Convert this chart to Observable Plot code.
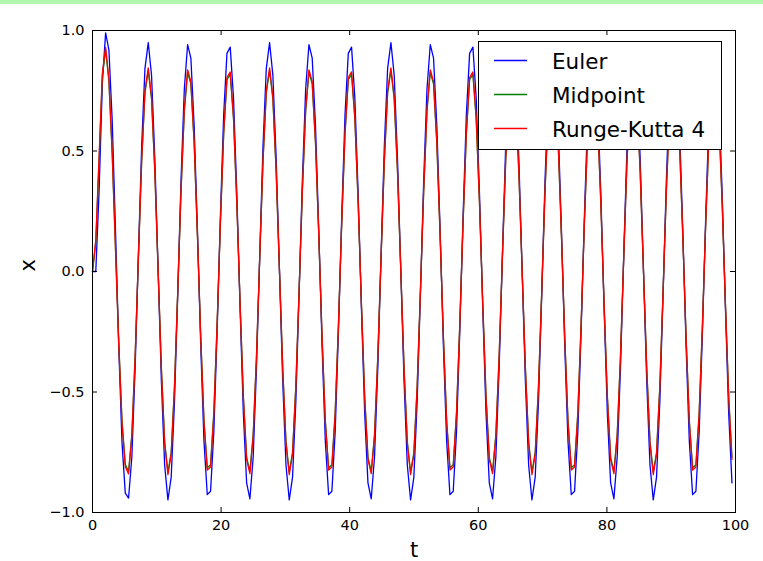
<!DOCTYPE html>
<html><head><meta charset="utf-8">
<script src="https://cdn.jsdelivr.net/npm/d3@7"></script>
<script src="https://cdn.jsdelivr.net/npm/@observablehq/plot@0.6"></script>
<style>
html,body{margin:0;padding:0;background:#fff;}
#wrap{position:relative;width:763px;height:561px;overflow:hidden;background:#fff;}
#band{position:absolute;left:0;top:0;width:763px;height:4px;background:#b4f7b0;z-index:2;}
svg{display:block;}
</style></head><body>
<div id="wrap"><div id="band"></div></div>
<script>
// sampling step of the time grid (t = index * tStep)
const tStep = 0.51;

const euler = [0,0,0.33,0.78,0.99,0.92,0.63,0.18,-0.31,-0.71,-0.92,-0.94,
-0.770,-0.402,0.068,0.523,0.843,0.950,0.815,0.473,0.011,-0.453,-0.803,-0.948,-0.853,-0.542,-0.092,0.381,0.757,0.941,0.885,0.606,0.172,-0.306,-0.705,-0.926,-0.912,-0.666,-0.251,0.228,0.649,0.905,0.931,0.721,0.328,-0.149,-0.588,-0.877,-0.943,
-0.770,-0.402,0.068,0.523,0.843,0.950,0.815,0.473,0.011,-0.453,-0.803,-0.948,-0.853,-0.542,-0.092,0.381,0.757,0.941,0.885,0.606,0.172,-0.306,-0.705,-0.926,-0.912,-0.666,-0.251,0.228,0.649,0.905,0.931,0.721,0.328,-0.149,-0.588,-0.877,-0.943,
-0.770,-0.402,0.068,0.523,0.843,0.950,0.815,0.473,0.011,-0.453,-0.803,-0.948,-0.853,-0.542,-0.092,0.381,0.757,0.941,0.885,0.606,0.172,-0.306,-0.705,-0.926,-0.912,-0.666,-0.251,0.228,0.649,0.905,0.931,0.721,0.328,-0.149,-0.588,-0.877,-0.943,
-0.770,-0.402,0.068,0.523,0.843,0.950,0.815,0.473,0.011,-0.453,-0.803,-0.948,-0.853,-0.542,-0.092,0.381,0.757,0.941,0.885,0.606,0.172,-0.306,-0.705,-0.926,-0.912,-0.666,-0.251,0.228,0.649,0.905,0.931,0.721,0.328,-0.149,-0.588,-0.877,-0.943,
-0.770,-0.402,0.068,0.523,0.843,0.950,0.815,0.473,0.011,-0.453,-0.803,-0.948,-0.853,-0.542,-0.092,0.381,0.757,0.941,0.885,0.606,0.172,-0.306,-0.705,-0.926,-0.912,-0.666,-0.251,0.228,0.649,0.905,0.931,0.721,0.328,-0.149,-0.588,-0.877];

const midpoint = [0,0.12,0.46,0.81,0.92,0.79,0.49,0.10,-0.29,-0.62,-0.80,-0.83,
-0.677,-0.353,0.060,0.459,0.741,0.835,0.716,0.416,0.010,-0.398,-0.706,-0.833,-0.750,-0.476,-0.081,0.335,0.665,0.827,0.778,0.533,0.151,-0.269,-0.620,-0.814,-0.802,-0.585,-0.220,0.200,0.570,0.796,0.818,0.634,0.288,-0.131,-0.517,-0.771,-0.829,
-0.677,-0.353,0.060,0.459,0.741,0.835,0.716,0.416,0.010,-0.398,-0.706,-0.833,-0.750,-0.476,-0.081,0.335,0.665,0.827,0.778,0.533,0.151,-0.269,-0.620,-0.814,-0.802,-0.585,-0.220,0.200,0.570,0.796,0.818,0.634,0.288,-0.131,-0.517,-0.771,-0.829,
-0.677,-0.353,0.060,0.459,0.741,0.835,0.716,0.416,0.010,-0.398,-0.706,-0.833,-0.750,-0.476,-0.081,0.335,0.665,0.827,0.778,0.533,0.151,-0.269,-0.620,-0.814,-0.802,-0.585,-0.220,0.200,0.570,0.796,0.818,0.634,0.288,-0.131,-0.517,-0.771,-0.829,
-0.677,-0.353,0.060,0.459,0.741,0.835,0.716,0.416,0.010,-0.398,-0.706,-0.833,-0.750,-0.476,-0.081,0.335,0.665,0.827,0.778,0.533,0.151,-0.269,-0.620,-0.814,-0.802,-0.585,-0.220,0.200,0.570,0.796,0.818,0.634,0.288,-0.131,-0.517,-0.771,-0.829,
-0.677,-0.353,0.060,0.459,0.741,0.835,0.716,0.416,0.010,-0.398,-0.706,-0.833,-0.750,-0.476,-0.081,0.335,0.665,0.827,0.778,0.533,0.151,-0.269,-0.620,-0.814,-0.802,-0.585,-0.220,0.200,0.570,0.796,0.818,0.634,0.288,-0.131,-0.517,-0.771];

const rk4 = [0,0.13,0.47,0.82,0.93,0.80,0.50,0.10,-0.30,-0.63,-0.81,-0.84,
-0.685,-0.357,0.061,0.465,0.750,0.845,0.725,0.421,0.010,-0.403,-0.714,-0.843,-0.759,-0.482,-0.082,0.339,0.673,0.837,0.788,0.539,0.153,-0.272,-0.627,-0.824,-0.811,-0.592,-0.223,0.203,0.577,0.805,0.828,0.641,0.292,-0.133,-0.523,-0.780,-0.839,
-0.685,-0.357,0.061,0.465,0.750,0.845,0.725,0.421,0.010,-0.403,-0.714,-0.843,-0.759,-0.482,-0.082,0.339,0.673,0.837,0.788,0.539,0.153,-0.272,-0.627,-0.824,-0.811,-0.592,-0.223,0.203,0.577,0.805,0.828,0.641,0.292,-0.133,-0.523,-0.780,-0.839,
-0.685,-0.357,0.061,0.465,0.750,0.845,0.725,0.421,0.010,-0.403,-0.714,-0.843,-0.759,-0.482,-0.082,0.339,0.673,0.837,0.788,0.539,0.153,-0.272,-0.627,-0.824,-0.811,-0.592,-0.223,0.203,0.577,0.805,0.828,0.641,0.292,-0.133,-0.523,-0.780,-0.839,
-0.685,-0.357,0.061,0.465,0.750,0.845,0.725,0.421,0.010,-0.403,-0.714,-0.843,-0.759,-0.482,-0.082,0.339,0.673,0.837,0.788,0.539,0.153,-0.272,-0.627,-0.824,-0.811,-0.592,-0.223,0.203,0.577,0.805,0.828,0.641,0.292,-0.133,-0.523,-0.780,-0.839,
-0.685,-0.357,0.061,0.465,0.750,0.845,0.725,0.421,0.010,-0.403,-0.714,-0.843,-0.759,-0.482,-0.082,0.339,0.673,0.837,0.788,0.539,0.153,-0.272,-0.627,-0.824,-0.811,-0.592,-0.223,0.203,0.577,0.805,0.828,0.641,0.292,-0.133,-0.523,-0.780];

const seriesNames = ["Euler", "Midpoint", "Runge-Kutta 4"];
const seriesColors = ["#0000ff", "#008000", "#ff0000"];
const xTicks = [0, 20, 40, 60, 80, 100];
const yTicks = [-1, -0.5, 0, 0.5, 1];
const yTickLabels = ["\u22121.0", "\u22120.5", "0.0", "0.5", "1.0"];

const W = 763, H = 561, mL = 92, mR = 28, mT = 30, mB = 49;
const plotW = W - mL - mR, plotH = H - mT - mB;
const tickLen = 5;

const seriesValues = [euler, midpoint, rk4];
const rows = seriesValues.map((vals, s) => vals.map((v, i) => ({t: i * tStep, v, s: seriesNames[s]})));

const svg = Plot.plot({
  width: W, height: H,
  marginLeft: mL, marginRight: mR, marginTop: mT, marginBottom: mB,
  style: {fontFamily: "'DejaVu Sans', sans-serif", fontSize: "14.5px", color: "#000", background: "#fff"},
  x: {domain: [0, 100]},
  y: {domain: [-1, 1]},
  marks: [
    ...rows.map((r, s) => Plot.line(r, {x: "t", y: "v", stroke: seriesColors[s], strokeWidth: 1.3})),
    Plot.ruleX(xTicks, {x: d => d, insetTop: plotH - tickLen, stroke: "#000"}),
    Plot.ruleX(xTicks, {x: d => d, insetBottom: plotH - tickLen, stroke: "#000"}),
    Plot.ruleY(yTicks, {y: d => d, insetRight: plotW - tickLen, stroke: "#000"}),
    Plot.ruleY(yTicks, {y: d => d, insetLeft: plotW - tickLen, stroke: "#000"}),
    Plot.frame({stroke: "#000", strokeWidth: 1}),
    Plot.axisX({ticks: xTicks, tickSize: 0, tickPadding: 7, tickFormat: d => String(d), label: null, fontSize: 14.5}),
    Plot.axisY({ticks: yTicks, tickSize: 0, tickPadding: 8, tickFormat: d => yTickLabels[yTicks.indexOf(d)], label: null, fontSize: 14.5}),
    Plot.text(["t"], {frameAnchor: "bottom", dy: 44, lineAnchor: "bottom", fontSize: 21, fill: "#000"}),
    Plot.text(["x"], {frameAnchor: "left", dx: -64, rotate: -90, fontSize: 21, fill: "#000"})
  ]
});

// legend (matplotlib classic style box, upper right)
const g = d3.select(svg).append("g")
  .attr("font-family", "'DejaVu Sans', sans-serif")
  .attr("text-anchor", "start");
const lx = 478.5, ly = 41.5, lw = 243, lh = 108;
g.append("rect").attr("x", lx).attr("y", ly).attr("width", lw).attr("height", lh)
  .attr("fill", "#fff").attr("stroke", "#000").attr("stroke-width", 1);
seriesNames.forEach((name, k) => {
  const cy = 60.5 + k * 34;
  g.append("line").attr("x1", 494).attr("x2", 527).attr("y1", cy).attr("y2", cy)
    .attr("stroke", seriesColors[k]).attr("stroke-width", 1.3);
  g.append("text").attr("x", 552).attr("y", cy + 8).attr("font-size", 21.5)
    .attr("text-anchor", "start").attr("fill", "#000").text(name);
});

document.getElementById("wrap").appendChild(svg);
</script>
</body></html>
